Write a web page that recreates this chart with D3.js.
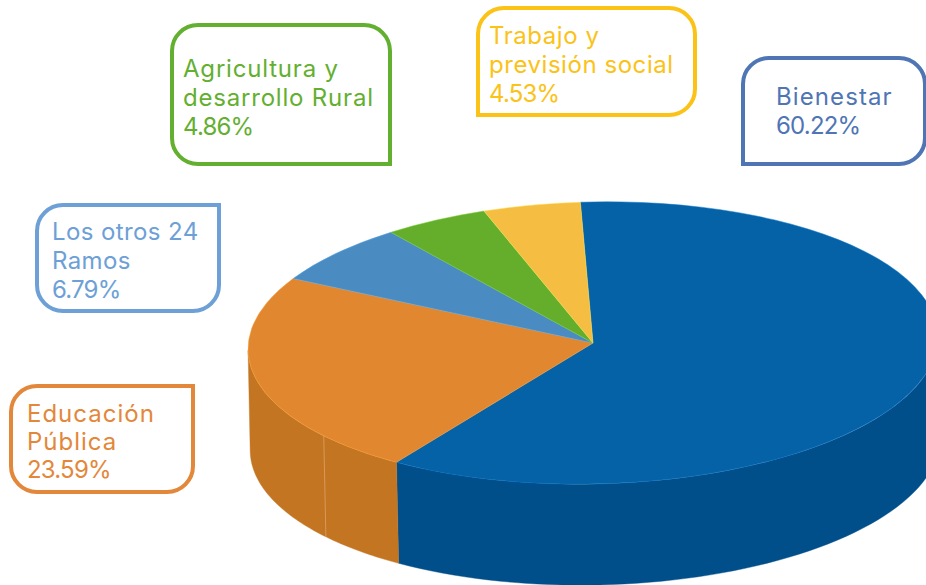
<!DOCTYPE html>
<html>
<head>
<meta charset="utf-8">
<script src="https://cdn.jsdelivr.net/npm/d3@7"></script>
<style>
  html, body { margin: 0; padding: 0; background: #fff; overflow: hidden; }
  text { font-family: Inter, "Open Sans", sans-serif; font-size: 24px; }
</style>
</head>
<body>
<div id="chart"></div>
<script>
// values as printed on the callouts
const ramos = ["Bienestar", "Educación Pública", "Los otros 24 Ramos", "Agricultura y desarrollo Rural", "Trabajo y previsión social"];
const valores = [60.22, 23.59, 6.79, 4.86, 4.53];
const etiquetas = ["60.22%", "23.59%", "6.79%", "4.86%", "4.53%"];
const lineas = [["Bienestar"], ["Educación", "Pública"], ["Los otros 24", "Ramos"], ["Agricultura y", "desarrollo Rural"], ["Trabajo y", "previsión social"]];

const coloresTapa = ["#0562a7", "#e08730", "#4a8cc2", "#64ae2b", "#f5bd41"];
const coloresPared = ["#004e8a", "#c37522", "#3a6f9b", "#4f8a22", "#c49734"];
const coloresTexto = ["#4f75b5", "#e3873a", "#6ca0d6", "#63af30", "#fbc218"];

// callout boxes: x, y, w, h, which corner stays square, text x, first baseline, line step, tracking
const cajas = [
  { x: 743, y: 58, w: 182, h: 106, recto: "bl", tx: 776, ty: 105, paso: 29, ls: 1.1 },
  { x: 11, y: 386, w: 182, h: 106, recto: "tr", tx: 27, ty: 422, paso: 28, ls: 1 },
  { x: 37, y: 205, w: 182, h: 106, recto: "tr", tx: 52, ty: 240, paso: 29, ls: 0.4 },
  { x: 172, y: 25, w: 218, h: 139, recto: "br", tx: 183, ty: 77, paso: 29, ls: 0.8 },
  { x: 478, y: 8, w: 217, h: 107, recto: "bl", tx: 489, ty: 44, paso: 29, ls: 0.55 }
];

const width = 926, height = 585;
const cx = 593, cy = 343, rx = 345, ry = 141, depth = 101, tilt = -1.2;
const inicio = -1.6 * Math.PI / 180;
const costura = 231.8 * Math.PI / 180; // faint joint on the orange wall

const svg = d3.select("#chart").append("svg")
  .attr("width", width)
  .attr("height", height);

const pie = d3.pie().sort(null)
  .startAngle(inicio)
  .endAngle(inicio + 2 * Math.PI);
const arcos = pie(valores);

const puntoX = a => rx * Math.sin(a);
const puntoY = a => -ry * Math.cos(a);

// side of the cake, only the part of each slice facing the viewer
function pared(a0, a1) {
  const p = d3.path();
  p.moveTo(puntoX(a0), puntoY(a0));
  const n = 60;
  for (let i = 1; i <= n; i++) {
    const a = a0 + (a1 - a0) * i / n;
    p.lineTo(puntoX(a), puntoY(a));
  }
  for (let i = n; i >= 0; i--) {
    const a = a0 + (a1 - a0) * i / n;
    p.lineTo(puntoX(a), puntoY(a) + depth);
  }
  p.closePath();
  return p.toString();
}

const pastel = svg.append("g")
  .attr("transform", "translate(" + cx + "," + cy + ") rotate(" + tilt + ")");

arcos.forEach(function(d, i) {
  const a0 = Math.max(d.startAngle, Math.PI / 2);
  const a1 = Math.min(d.endAngle, 3 * Math.PI / 2);
  if (a1 <= a0) return;
  pastel.append("path")
    .attr("d", pared(a0, a1))
    .attr("fill", coloresPared[i])
    .attr("stroke", coloresPared[i])
    .attr("stroke-width", 0.4);
});

pastel.append("line")
  .attr("x1", puntoX(costura))
  .attr("y1", puntoY(costura))
  .attr("x2", puntoX(costura))
  .attr("y2", puntoY(costura) + depth)
  .attr("stroke", "#dfa873")
  .attr("stroke-width", 0.7);

const arco = d3.arc().innerRadius(0).outerRadius(1);

pastel.append("g")
  .attr("transform", "scale(" + rx + "," + ry + ")")
  .selectAll("path")
  .data(arcos)
  .enter().append("path")
  .attr("d", arco)
  .attr("fill", (d, i) => coloresTapa[i])
  .attr("stroke", (d, i) => d3.color(coloresTapa[i]).brighter(0.5))
  .attr("stroke-width", 0.5)
  .attr("vector-effect", "non-scaling-stroke");

// rounded box with one square corner
function caja(c) {
  const r = 26, p = d3.path();
  const x1 = c.x + c.w, y1 = c.y + c.h;
  const rr = k => c.recto === k ? 0 : r;
  p.moveTo(c.x + rr("tl"), c.y);
  p.lineTo(x1 - rr("tr"), c.y);
  p.arcTo(x1, c.y, x1, c.y + rr("tr"), rr("tr"));
  p.lineTo(x1, y1 - rr("br"));
  p.arcTo(x1, y1, x1 - rr("br"), y1, rr("br"));
  p.lineTo(c.x + rr("bl"), y1);
  p.arcTo(c.x, y1, c.x, y1 - rr("bl"), rr("bl"));
  p.lineTo(c.x, c.y + rr("tl"));
  p.arcTo(c.x, c.y, c.x + rr("tl"), c.y, rr("tl"));
  p.closePath();
  return p.toString();
}

const rotulos = svg.selectAll("g.rotulo")
  .data(ramos)
  .enter().append("g")
  .attr("class", "rotulo");

rotulos.append("path")
  .attr("d", (d, i) => caja(cajas[i]))
  .attr("fill", "#fff")
  .attr("stroke", (d, i) => coloresTexto[i])
  .attr("stroke-width", 4);

rotulos.append("text")
  .attr("fill", (d, i) => coloresTexto[i])
  .each(function(d, i) {
    const t = d3.select(this);
    lineas[i].concat(etiquetas[i]).forEach(function(s, j) {
      t.append("tspan")
        .attr("x", cajas[i].tx)
        .attr("y", cajas[i].ty + j * cajas[i].paso)
        .attr("letter-spacing", j < lineas[i].length ? cajas[i].ls : -0.8)
        .text(s);
    });
  });
</script>
</body>
</html>
